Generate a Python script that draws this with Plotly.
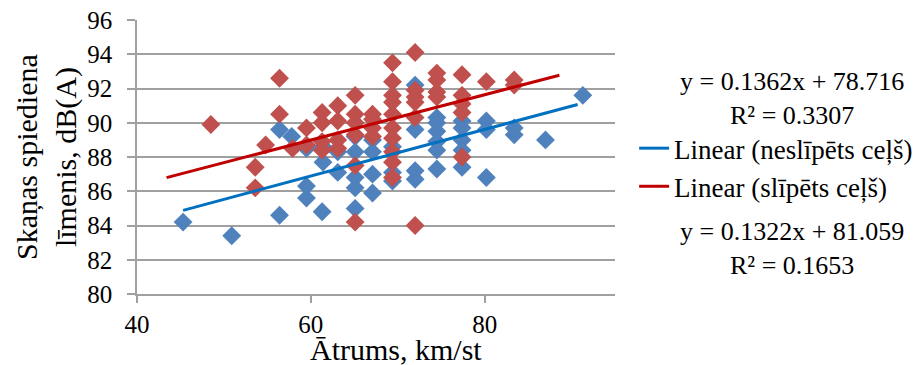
import numpy as np
import plotly.graph_objects as go

# ---- data ----
blue_x = [45.3, 50.9, 56.4, 56.4, 57.8, 59.5, 59.5, 59.5, 61.3, 61.4, 61.4, 63.1, 63.1,
          65.1, 65.1, 65.1, 65.1, 65.1, 67.1, 67.1, 67.1, 67.1, 69.4, 69.4, 69.4,
          72.0, 72.0, 72.0, 72.0, 74.5, 74.5, 74.5, 74.5, 74.5, 74.5,
          77.4, 77.4, 77.4, 77.4, 77.4, 80.2, 80.2, 80.2, 83.4, 83.4, 87.0, 91.3]
blue_y = [84.2, 83.4, 89.6, 84.6, 89.2, 86.3, 85.6, 88.5, 84.8, 87.7, 88.6, 87.1, 88.3,
          88.3, 86.8, 86.2, 85.0, 89.2, 85.9, 87.0, 88.3, 89.0, 87.1, 86.6, 88.6,
          92.2, 87.2, 86.7, 89.6, 90.3, 90.0, 89.5, 88.9, 88.4, 87.3,
          90.1, 89.7, 89.0, 88.4, 87.4, 90.1, 89.6, 86.8, 89.7, 89.3, 89.0, 91.6]

red_x = [48.5, 53.6, 53.6, 54.8, 56.4, 56.4, 57.9, 59.5, 59.5, 61.3, 61.3, 61.3, 61.3,
         63.1, 63.1, 63.1, 63.1, 65.1, 65.1, 65.1, 65.1, 65.1, 65.1,
         67.1, 67.1, 67.1, 67.1, 69.4, 69.4, 69.4, 69.4, 69.4, 69.4, 69.4, 69.4, 69.4, 69.4,
         72.0, 72.0, 72.0, 72.0, 72.0, 72.0, 74.5, 74.5, 74.5, 74.5,
         77.4, 77.4, 77.4, 77.4, 77.4, 80.2, 83.4, 83.4]
red_y = [89.9, 87.4, 86.2, 88.7, 92.6, 90.5, 88.5, 89.7, 88.7, 90.6, 90.0, 88.9, 88.4,
         91.0, 90.1, 89.0, 88.5, 91.6, 90.5, 89.3, 87.5, 84.2, 90.0,
         90.5, 89.7, 89.2, 90.2, 93.5, 92.4, 91.6, 91.2, 90.5, 89.7, 89.1, 88.3, 87.7, 86.8,
         94.1, 91.9, 91.5, 91.2, 90.3, 84.0, 92.9, 92.5, 91.8, 91.5,
         92.8, 91.6, 91.1, 90.6, 88.0, 92.4, 92.5, 92.2]

# trendline equations as displayed in the chart
blue_slope, blue_intercept, blue_r2 = 0.1362, 78.716, 0.3307
red_slope, red_intercept, red_r2 = 0.1322, 81.059, 0.1653
blue_trend_x = [45.3, 90.7]
red_trend_x = [43.4, 88.6]

series_names = ["neslīpēts ceļš", "slīpēts ceļš"]
x_ticks = [40, 60, 80]
y_ticks = [80, 82, 84, 86, 88, 90, 92, 94, 96]

BLUE_MK, RED_MK = "#4F81BD", "#C0504D"
BLUE_LN, RED_LN = "#0070C0", "#C00000"
FONT = "Liberation Serif, Times New Roman, serif"
GRID = "#A0A0A0"

fig = go.Figure()
fig.add_trace(go.Scatter(x=blue_x, y=blue_y, mode="markers", name=series_names[0],
                         marker=dict(symbol="diamond", size=14.5, color=BLUE_MK, line=dict(width=0)),
                         showlegend=False))
fig.add_trace(go.Scatter(x=red_x, y=red_y, mode="markers", name=series_names[1],
                         marker=dict(symbol="diamond", size=14.5, color=RED_MK, line=dict(width=0)),
                         showlegend=False))

bx = np.array(blue_trend_x)
rx = np.array(red_trend_x)
fig.add_trace(go.Scatter(x=bx, y=blue_slope * bx + blue_intercept, mode="lines",
                         name=f"Linear ({series_names[0]})", line=dict(color=BLUE_LN, width=3)))
fig.add_trace(go.Scatter(x=rx, y=red_slope * rx + red_intercept, mode="lines",
                         name=f"Linear ({series_names[1]})", line=dict(color=RED_LN, width=3)))

fig.update_layout(
    width=913, height=365,
    margin=dict(l=137, r=298, t=20, b=71, autoexpand=False),
    paper_bgcolor="white", plot_bgcolor="white",
    font=dict(family=FONT, size=24, color="black"),
    showlegend=True,
    legend=dict(x=1.040, y=0.62, xanchor="left", yanchor="top",
                font=dict(family=FONT, size=27), bgcolor="rgba(0,0,0,0)",
                tracegroupgap=0),
    xaxis=dict(range=[40, 95], tickvals=x_ticks, showgrid=False, zeroline=False,
               showline=True, linecolor=GRID, linewidth=1.5,
               ticks="outside", ticklen=7, tickcolor=GRID, tickwidth=1.5,
               tickfont=dict(family=FONT, size=25), ticklabelstandoff=0),
    yaxis=dict(range=[80, 96], tickvals=y_ticks, showgrid=True, gridcolor=GRID, gridwidth=1.5,
               zeroline=False, showline=True, linecolor=GRID, linewidth=1.5,
               ticks="outside", ticklen=8, tickcolor=GRID, tickwidth=1.5,
               tickfont=dict(family=FONT, size=25), ticklabelstandoff=10),
)

ann = []
ann.append(dict(text="Ātrums, km/st", xref="paper", yref="paper",
                x=(396 - 137) / 478, y=(294 - 349) / 274, xanchor="center", yanchor="middle",
                showarrow=False, font=dict(family=FONT, size=30)))
ann.append(dict(text="Skaņas spiediena<br>līmenis, dB(A)", xref="paper", yref="paper",
                x=(46 - 137) / 478, y=0.5, xanchor="center", yanchor="middle",
                textangle=-90, showarrow=False, font=dict(family=FONT, size=30)))
ann.append(dict(text=f"y = {blue_slope}x + {blue_intercept}<br>R² = {blue_r2}",
                xref="paper", yref="paper", x=(792 - 137) / 478, y=(294 - 98) / 274,
                xanchor="center", yanchor="middle", showarrow=False,
                font=dict(family=FONT, size=26)))
ann.append(dict(text=f"y = {red_slope}x + {red_intercept}<br>R² = {red_r2}",
                xref="paper", yref="paper", x=(792 - 137) / 478, y=(294 - 248) / 274,
                xanchor="center", yanchor="middle", showarrow=False,
                font=dict(family=FONT, size=26)))
fig.update_layout(annotations=ann)

fig.write_html("out.html")
